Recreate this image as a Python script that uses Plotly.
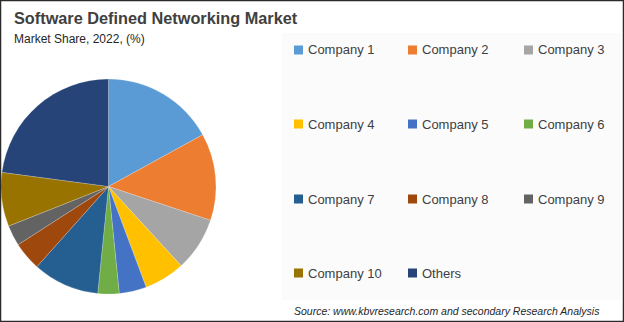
import plotly.graph_objects as go

W, H = 624, 322

categories = ["Company 1", "Company 2", "Company 3", "Company 4", "Company 5",
              "Company 6", "Company 7", "Company 8", "Company 9", "Company 10", "Others"]
shares = [17.0, 13.1, 8.1, 6.1, 4.1, 3.2, 10.0, 4.3, 3.1, 8.1, 22.9]
colors = ["#5B9BD5", "#ED7D31", "#A5A5A5", "#FFC000", "#4472C4", "#70AD47",
          "#255E91", "#9E480E", "#636363", "#997300", "#264478"]

title = "Software Defined Networking Market"
subtitle = "Market Share, 2022, (%)"
source = "Source: www.kbvresearch.com and secondary Research Analysis"

FONT = "Liberation Sans, Arial, sans-serif"

def px(x):
    return x / W

def py(y):
    return 1 - y / H

fig = go.Figure()
fig.add_trace(go.Pie(
    labels=categories,
    values=shares,
    sort=False,
    direction="clockwise",
    rotation=0,
    textinfo="none",
    marker=dict(colors=colors, line=dict(color="rgba(255,255,255,0.4)", width=0.5)),
    domain=dict(x=[px(1), px(216)], y=[py(294), py(79)]),
    showlegend=False,
))

shapes = []
annotations = []

# light grey legend panel
shapes.append(dict(type="rect", xref="paper", yref="paper",
                   x0=px(282), x1=px(621), y0=py(300), y1=py(33),
                   fillcolor="#fbfbfb", line=dict(width=0), layer="below"))

# legend, 3 columns x 4 rows
col_x = [294, 408, 524]
row_y = [50, 124, 199, 273]
for i, (name, c) in enumerate(zip(categories, colors)):
    cx = col_x[i % 3]
    cy = row_y[i // 3]
    shapes.append(dict(type="rect", xref="paper", yref="paper",
                       x0=px(cx), x1=px(cx + 9), y0=py(cy + 4.5), y1=py(cy - 4.5),
                       fillcolor=c, line=dict(width=0)))
    annotations.append(dict(text=name, x=px(cx + 12), y=py(cy), xref="paper", yref="paper",
                            xanchor="left", yanchor="middle", showarrow=False,
                            font=dict(family=FONT, size=13, color="#404040")))

annotations.append(dict(text="<b>" + title + "</b>", x=px(12), y=py(18), xref="paper", yref="paper",
                        xanchor="left", yanchor="middle", showarrow=False,
                        font=dict(family=FONT, size=16.3, color="#404040")))
annotations.append(dict(text=subtitle, x=px(12), y=py(39), xref="paper", yref="paper",
                        xanchor="left", yanchor="middle", showarrow=False,
                        font=dict(family=FONT, size=12, color="#262626")))
annotations.append(dict(text="<i>" + source + "</i>", x=px(292), y=py(311), xref="paper", yref="paper",
                        xanchor="left", yanchor="middle", showarrow=False,
                        font=dict(family=FONT, size=10.5, color="#262626")))

# outer border
shapes.append(dict(type="rect", xref="paper", yref="paper", x0=0, x1=1, y0=0, y1=1,
                   line=dict(color="#2b2b2b", width=2.5), fillcolor="rgba(0,0,0,0)"))

fig.update_layout(
    width=W, height=H,
    margin=dict(l=0, r=0, t=0, b=0),
    paper_bgcolor="white",
    plot_bgcolor="white",
    shapes=shapes,
    annotations=annotations,
)

fig.write_html("out.html")
